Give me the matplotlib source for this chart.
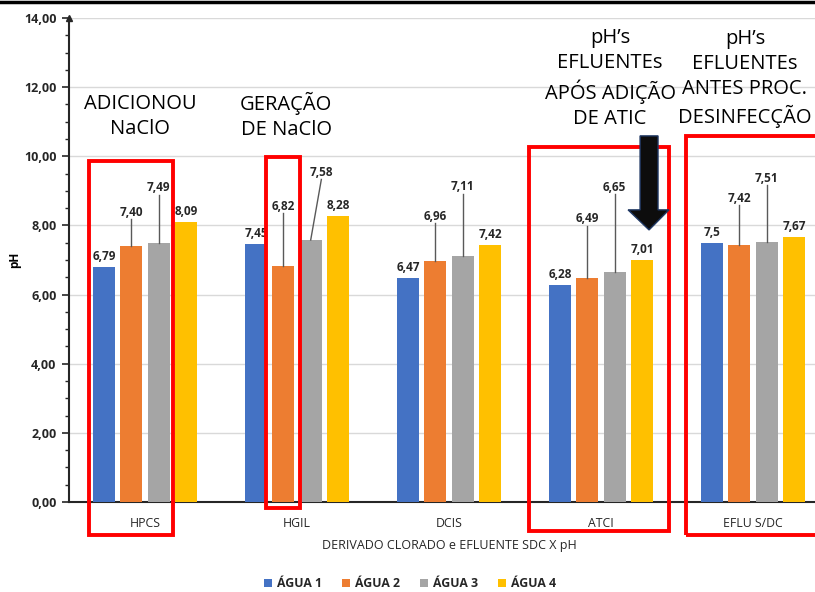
import matplotlib
matplotlib.use("Agg")
import matplotlib.pyplot as plt
from matplotlib.patches import Rectangle, Polygon
from matplotlib.lines import Line2D
import numpy as np

categories = ["HPCS", "HGIL", "DCIS", "ATCI", "EFLU S/DC"]
series_names = ["ÁGUA 1", "ÁGUA 2", "ÁGUA 3", "ÁGUA 4"]
agua1 = [6.79, 7.45, 6.47, 6.28, 7.50]
agua2 = [7.40, 6.82, 6.96, 6.49, 7.42]
agua3 = [7.49, 7.58, 7.11, 6.65, 7.51]
agua4 = [8.09, 8.28, 7.42, 7.01, 7.67]
value_labels = [
    ["6,79", "7,45", "6,47", "6,28", "7,5"],
    ["7,40", "6,82", "6,96", "6,49", "7,42"],
    ["7,49", "7,58", "7,11", "6,65", "7,51"],
    ["8,09", "8,28", "7,42", "7,01", "7,67"],
]
y_ticks = [0, 2, 4, 6, 8, 10, 12, 14]
y_tick_labels = ["0,00", "2,00", "4,00", "6,00", "8,00", "10,00", "12,00", "14,00"]

colors = ["#4472C4", "#ED7D31", "#A5A5A5", "#FFC000"]

# label placement: vertical lift above each bar (data units) and sideways shift
label_lift = [
    [0.12, 0.12, 0.12, 0.12, 0.12],
    [0.80, 1.55, 1.12, 1.52, 1.18],
    [1.42, 1.77, 1.82, 2.27, 1.67],
    [0.12, 0.12, 0.12, 0.12, 0.12],
]
label_shift = [
    [0, 0, 0, 0, 0],
    [0, 0, 0, 0, 0],
    [0, 0.07, 0, 0, 0],
    [0, 0, 0, 0, 0],
]

fig = plt.figure(figsize=(8.15, 5.92), dpi=100)
ax = fig.add_axes([0.0847, 0.152, 0.9325, 0.8176])

data = [agua1, agua2, agua3, agua4]
x = np.arange(len(categories))
step = 0.18
width = 0.145
for i, vals in enumerate(data):
    xs = x + (i - 1.5) * step
    ax.bar(xs, vals, width=width, color=colors[i], label=series_names[i], zorder=3)
    for j, v in enumerate(vals):
        ly = v + label_lift[i][j]
        lx = xs[j] + label_shift[i][j]
        ax.text(lx, ly, value_labels[i][j], ha="center", va="bottom",
                fontsize=8.5, fontweight="bold", color="#262626",
                family="Open Sans", zorder=5)
        if label_lift[i][j] > 0.5:
            ax.plot([xs[j], lx], [v, ly - 0.02], color="#595959", lw=1.0, zorder=4)

ax.set_xlim(-0.5, 4.5)
ax.set_ylim(0, 14)
ax.set_yticks(y_ticks)
ax.set_yticklabels(y_tick_labels, fontsize=9, fontweight="bold", family="Open Sans",
                   color="#262626")
ax.set_yticks(np.arange(0, 14.01, 0.5), minor=True)
ax.tick_params(axis="y", which="major", direction="out", length=5, width=1.2,
               color="#262626", pad=4)
ax.tick_params(axis="y", which="minor", direction="out", length=3, width=1.0, color="#262626")
ax.set_xticks(x)
ax.set_xticklabels(categories, fontsize=8.8, family="Open Sans", color="#262626")
ax.tick_params(axis="x", length=0, pad=11)
ax.grid(axis="y", color="#d9d9d9", lw=1.0, zorder=0)
for s in ["top", "right"]:
    ax.spines[s].set_visible(False)
ax.spines["left"].set_linewidth(1.5)
ax.spines["left"].set_color("#262626")
ax.spines["bottom"].set_linewidth(1.5)
ax.spines["bottom"].set_color("#262626")
ax.plot([-0.5], [14], marker="^", color="#262626", markersize=5, clip_on=False, zorder=6)

ax.set_ylabel("pH", fontsize=8.5, fontweight="bold", family="Open Sans")
ax.yaxis.set_label_coords(-0.063, 0.5)
ax.set_xlabel("DERIVADO CLORADO e EFLUENTE SDC X pH", fontsize=9, family="Open Sans",
              labelpad=6, color="#262626")

# highlight boxes
boxes = [
    (-0.368, -0.95, 0.552, 10.81),
    (0.796, -0.17, 0.224, 10.15),
    (2.526, -0.84, 0.921, 11.11),
    (3.559, -0.95, 1.10, 11.54),
]
for bx, by, bw, bh in boxes:
    ax.add_patch(Rectangle((bx, by), bw, bh, fill=False, edgecolor="#FF0000",
                           lw=2.8, clip_on=False, zorder=7))

# downward arrow over ATCI
sx0, sx1 = 3.257, 3.375
hx0, hx1 = 3.178, 3.447
top, head, tip = 10.59, 8.45, 7.87
arrow = Polygon([(sx0, top), (sx1, top), (sx1, head), (hx1, head),
                 ((sx0 + sx1) / 2, tip), (hx0, head), (sx0, head)],
                closed=True, facecolor="#0d0d0d", edgecolor="#1f3864", lw=1.0,
                clip_on=False, zorder=8)
ax.add_patch(arrow)

notes = [
    (-0.033, 11.14, "ADICIONOU\nNaClO"),
    (0.928, 11.17, "GERAÇÃO\nDE NaClO"),
    (3.06, 12.26, "pH’s\nEFLUENTEs\nAPÓS ADIÇÃO\nDE ATIC"),
    (3.947, 12.26, "pH’s\nEFLUENTEs\nANTES PROC.\nDESINFECÇÃO"),
]
for nx, ny, txt in notes:
    ax.text(nx, ny, txt, ha="center", va="center", fontsize=14.5, family="Open Sans",
            linespacing=1.33, color="black", zorder=9, clip_on=False)

fig.legend(loc="center", bbox_to_anchor=(0.503, 0.014), ncol=4, frameon=False,
           prop={"family": "Open Sans", "weight": "bold", "size": 8.8},
           handlelength=0.7, handleheight=0.7, handletextpad=0.4, columnspacing=1.6,
           labelcolor="#262626")

fig.add_artist(Line2D([0, 1], [0.996, 0.996], color="black", lw=2.5, transform=fig.transFigure))

fig.savefig("out.png", dpi=100)
